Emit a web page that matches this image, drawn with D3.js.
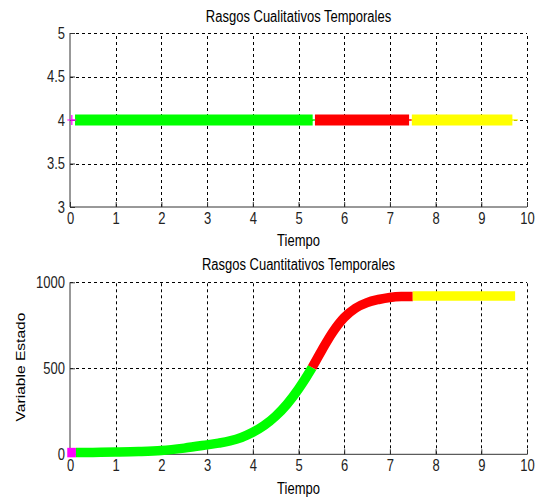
<!DOCTYPE html>
<meta charset="utf-8">
<style>

    body { margin: 0; background: #fff; }

    svg { font-family: "Liberation Sans", Arial, sans-serif; }

    .grid line {
        stroke: #000;
        stroke-width: 1px;
        stroke-dasharray: 3,3;
    }

    .axis path, .axis line { stroke: #333; }

    .axis text { fill: #222; font-size: 13px; }

    .titulo { font-size: 13px; fill: #000; }

</style>
<svg width="535" height="497"></svg>
<script src="https://cdn.jsdelivr.net/npm/d3@7"></script>
<script>

    // ticks
    var tiempoTicks = [0, 1, 2, 3, 4, 5, 6, 7, 8, 9, 10];
    var cualTicks = [3, 3.5, 4, 4.5, 5];
    var cuantTicks = [0, 500, 1000];

    // rasgos cualitativos (nivel 4)
    var rasgoColores = ["#00ff00", "#ff0000", "#ffff00"];
    var rasgoInicio = [0.11, 5.36, 7.48];
    var rasgoFin = [5.31, 7.42, 9.68];
    var rasgoNivel = 4;
    var trazoFin = 9.8;
    var marcaInicio = 0.04;

    // rasgos cuantitativos (variable estado)
    var tMagenta = [-0.06, 0.13];
    var vMagenta = [10, 10];
    var tVerde = [0.13, 0.5, 1.0, 1.5, 2.0, 2.5, 3.0, 3.25, 3.5, 3.75, 4.0, 4.25, 4.5, 4.75, 5.0, 5.15, 5.3];
    var vVerde = [10, 11, 13, 16, 22, 36, 55, 65, 78, 98, 128, 168, 222, 292, 380, 440, 505];
    var tRojo = [5.3, 5.5, 5.75, 6.0, 6.25, 6.5, 6.75, 7.0, 7.25, 7.5];
    var vRojo = [505, 600, 710, 795, 850, 882, 900, 912, 917, 918];
    var tAmarillo = [7.5, 9.74];
    var vAmarillo = [920, 920];

    var svg = d3.select("svg");

    var x = d3.scaleLinear().domain([0, 10]).range([70, 527]);
    var yCual = d3.scaleLinear().domain([3, 5]).range([207, 33]);
    var yCuant = d3.scaleLinear().domain([0, 1000]).range([454.3, 282.3]);

    // stretch the text a bit vertically like the original screenshot
    function estirar(g) {
        g.selectAll(".tick text").each(function() {
            var t = d3.select(this);
            var tx = +t.attr("x") || 0, ty = +t.attr("y") || 0;
            t.attr("x", null).attr("y", null)
                .attr("transform", "translate(" + tx + "," + ty + ") scale(1,1.2)");
        });
    }

    function texto(px, py, s, rot) {
        svg.append("text")
            .attr("class", "titulo")
            .attr("text-anchor", "middle")
            .attr("transform", "translate(" + px + "," + py + ")" + (rot ? " rotate(-90) scale(1.2,1)" : " scale(1,1.2)"))
            .text(s);
    }

    function panel(y, yTicks, fmt) {
        var grid = svg.append("g").attr("class", "grid");
        grid.selectAll(".v").data(tiempoTicks.slice(1)).enter().append("line")
            .attr("x1", function(d) { return Math.round(x(d)) + 0.5; })
            .attr("x2", function(d) { return Math.round(x(d)) + 0.5; })
            .attr("y1", y.range()[0])
            .attr("y2", y.range()[1]);
        grid.selectAll(".h").data(yTicks.slice(1)).enter().append("line")
            .attr("x1", x.range()[0])
            .attr("x2", x.range()[1])
            .attr("y1", function(d) { return Math.round(y(d)) + 0.5; })
            .attr("y2", function(d) { return Math.round(y(d)) + 0.5; });

        var gx = svg.append("g")
            .attr("class", "axis")
            .attr("transform", "translate(0," + y.range()[0] + ")")
            .call(d3.axisBottom(x).tickValues(tiempoTicks).tickFormat(String)
                .tickSizeInner(-5).tickSizeOuter(0).tickPadding(6));
        gx.select(".domain").remove();
        gx.append("line").attr("x1", x.range()[0]).attr("x2", x.range()[1]).attr("stroke", "#333");
        estirar(gx);

        var gy = svg.append("g")
            .attr("class", "axis")
            .attr("transform", "translate(" + x.range()[0] + ",0)")
            .call(d3.axisLeft(y).tickValues(yTicks).tickFormat(fmt)
                .tickSizeInner(-5).tickSizeOuter(0).tickPadding(5));
        gy.select(".domain").remove();
        gy.append("line").attr("y1", y.range()[0]).attr("y2", y.range()[1]).attr("stroke", "#333");
        estirar(gy);
    }

    panel(yCual, cualTicks, String);
    panel(yCuant, cuantTicks, String);

    // --- rasgos cualitativos
    var rasgos = rasgoColores.map(function(c, i) {
        return {color: c, a: rasgoInicio[i], b: rasgoFin[i],
                sig: i < rasgoColores.length - 1 ? rasgoInicio[i + 1] : trazoFin};
    });

    svg.append("line")
        .attr("x1", x(marcaInicio)).attr("x2", x(rasgoInicio[0]))
        .attr("y1", yCual(rasgoNivel)).attr("y2", yCual(rasgoNivel))
        .attr("stroke", "#ff00ff");

    var r = svg.selectAll(".rasgo").data(rasgos).enter().append("g").attr("class", "rasgo");
    r.append("line")
        .attr("x1", function(d) { return x(d.a); })
        .attr("x2", function(d) { return x(d.sig); })
        .attr("y1", yCual(rasgoNivel)).attr("y2", yCual(rasgoNivel))
        .attr("stroke", function(d) { return d.color; })
        .attr("stroke-width", 1.5);
    r.append("line")
        .attr("x1", function(d) { return x(d.a); })
        .attr("x2", function(d) { return x(d.b); })
        .attr("y1", yCual(rasgoNivel)).attr("y2", yCual(rasgoNivel))
        .attr("stroke", function(d) { return d.color; })
        .attr("stroke-width", 11);

    // magenta "+" marker
    var mx = x(marcaInicio), my = yCual(rasgoNivel);
    svg.append("path")
        .attr("d", "M" + (mx - 4.5) + "," + my + "H" + (mx + 4.5) + "M" + mx + "," + (my - 5) + "V" + (my + 5))
        .attr("stroke", "#ff00ff")
        .attr("stroke-width", 1.2);

    // --- rasgos cuantitativos
    var linea = d3.line()
        .curve(d3.curveMonotoneX)
        .x(function(d) { return x(d[0]); })
        .y(function(d) { return yCuant(d[1]); });

    var tramos = [
        {color: "#ff00ff", t: tMagenta, v: vMagenta},
        {color: "#00ff00", t: tVerde, v: vVerde},
        {color: "#ff0000", t: tRojo, v: vRojo},
        {color: "#ffff00", t: tAmarillo, v: vAmarillo}
    ];

    svg.selectAll(".tramo").data(tramos).enter().append("path")
        .attr("class", "tramo")
        .attr("fill", "none")
        .attr("stroke", function(d) { return d.color; })
        .attr("stroke-width", 9.5)
        .attr("stroke-linejoin", "round")
        .attr("d", function(d) { return linea(d.t.map(function(t, i) { return [t, d.v[i]]; })); });

    // text
    var cx = (x.range()[0] + x.range()[1]) / 2;
    texto(cx, 22, "Rasgos Cualitativos Temporales");
    texto(cx, 246, "Tiempo");
    texto(cx, 270, "Rasgos Cuantitativos Temporales");
    texto(cx, 494, "Tiempo");
    texto(25, 367, "Variable Estado", true);

</script>
